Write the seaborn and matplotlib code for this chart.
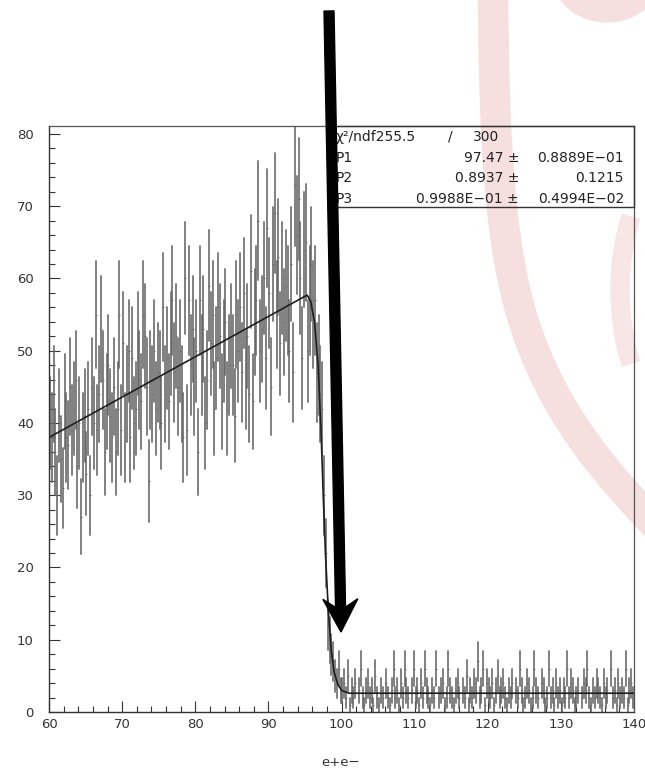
import numpy as np
import pandas as pd
import matplotlib
matplotlib.use("Agg")
import matplotlib.pyplot as plt
import seaborn as sns
from matplotlib import transforms
from matplotlib.patches import FancyArrow, Rectangle, Ellipse, Arc, PathPatch
from matplotlib.path import Path
from matplotlib.ticker import MultipleLocator

# ---- histogram: 0.25-wide bins from 60 to 140 ----
bin_start = 60.0
bin_width = 0.25

counts_60_65 = [40, 38, 44, 36, 30, 41, 35, 31, 43, 38, 37, 45, 39, 42, 46, 34, 40, 27, 38, 41]
counts_65_70 = [33, 42, 30, 45, 40, 55, 39, 44, 53, 46, 36, 43, 48, 41, 38, 45, 36, 42, 55, 39]
counts_70_75 = [51, 38, 44, 50, 38, 49, 40, 42, 51, 46, 43, 55, 52, 45, 32, 46, 44, 50, 42, 47]
counts_75_80 = [46, 40, 56, 44, 49, 43, 51, 57, 47, 52, 45, 50, 44, 38, 60, 39, 57, 48, 53, 45]
counts_80_85 = [50, 36, 57, 48, 53, 40, 46, 59, 51, 55, 42, 49, 56, 52, 43, 50, 54, 42, 48, 52]
counts_85_90 = [48, 41, 55, 50, 56, 47, 58, 46, 52, 44, 61, 43, 54, 57, 68, 50, 53, 60, 49, 67]
counts_90_95 = [58, 45, 62, 69, 55, 63, 51, 60, 54, 59, 57, 50, 62, 47, 73, 66, 71, 60, 49, 64]
counts_95_100 = [65, 50, 57, 62, 55, 57, 47, 48, 44, 42, 30, 22, 12, 10, 8, 7, 5, 4, 6, 3]
counts_100_105 = [3, 4, 2, 5, 1, 3, 2, 4, 0, 3, 6, 2, 1, 3, 4, 2, 3, 1, 5, 2]
counts_105_110 = [1, 3, 2, 0, 4, 2, 1, 3, 6, 2, 3, 1, 4, 2, 6, 3, 2, 0, 3, 6]
counts_110_115 = [2, 3, 1, 4, 2, 6, 3, 2, 1, 3, 2, 6, 0, 2, 3, 4, 1, 2, 6, 3]
counts_115_120 = [2, 1, 3, 4, 2, 0, 3, 2, 5, 1, 3, 2, 4, 3, 7, 2, 3, 6, 1, 4]
counts_120_125 = [3, 2, 4, 1, 3, 5, 2, 3, 4, 2, 1, 3, 2, 4, 0, 3, 2, 6, 3, 1]
counts_125_130 = [2, 4, 3, 1, 2, 6, 3, 2, 0, 4, 3, 1, 2, 6, 2, 3, 1, 4, 2, 3]
counts_130_135 = [1, 3, 2, 6, 2, 4, 3, 1, 2, 3, 0, 2, 4, 3, 6, 2, 1, 3, 2, 4]
counts_135_140 = [3, 2, 1, 4, 2, 3, 0, 6, 2, 3, 1, 4, 2, 3, 2, 6, 1, 3, 4, 2]

# ---- fitted curve ----
fit_x = [60.0, 95.3, 95.8, 96.3, 96.8, 97.2, 97.5, 97.8, 98.2, 98.6, 99.0, 99.5, 100.0, 101.0, 140.0]
fit_y = [38.0, 57.7, 56.8, 54.0, 48.0, 39.0, 30.0, 22.0, 14.0, 8.5, 5.5, 3.8, 3.0, 2.6, 2.6]

# ---- axes and statistics text ----
x_ticks = [60, 70, 80, 90, 100, 110, 120, 130, 140]
y_ticks = [0, 10, 20, 30, 40, 50, 60, 70, 80]
x_label = "e+e\u2212"
chi2_parts = ["\u03c7\u00b2/ndf255.5", "/", "300"]
par_names = ["P1", "P2", "P3"]
par_values = ["97.47 \u00b1", "0.8937 \u00b1", "0.9988E\u221201 \u00b1"]
par_errors = ["0.8889E\u221201", "0.1215", "0.4994E\u221202"]

sns.set_theme(style="white")
plt.rcParams["font.family"] = ["DejaVu Sans"]

W, H = 645, 768
fig = plt.figure(figsize=(W / 100, H / 100), dpi=100)
fig.patch.set_facecolor("white")
# pixel coordinates, origin at top-left
px = transforms.Affine2D().scale(1 / W, -1 / H).translate(0, 1) + fig.transFigure

# faint logo in the background
pink = "#f6dfdf"
band = Path([(493, -10), (494, 150), (500, 260), (530, 340),
             (560, 420), (605, 475), (680, 550)],
            [Path.MOVETO, Path.CURVE4, Path.CURVE4, Path.CURVE4,
             Path.CURVE4, Path.CURVE4, Path.CURVE4])
fig.add_artist(PathPatch(band, fill=False, ec=pink, lw=22, capstyle="butt",
                         transform=px, zorder=-5))
fig.add_artist(Ellipse((607, -25), 110, 95, fc=pink, ec="none", transform=px, zorder=-5))
fig.add_artist(Arc((705, 290), 170, 300, theta1=135, theta2=225, ec="#f8e6e6", lw=14,
                   transform=px, zorder=-5))

ax = fig.add_axes([49 / W, 1 - 712 / H, (634 - 49) / W, (712 - 126) / H])
ax.patch.set_alpha(0)

counts = np.array(counts_60_65 + counts_65_70 + counts_70_75 + counts_75_80 +
                  counts_80_85 + counts_85_90 + counts_90_95 + counts_95_100 +
                  counts_100_105 + counts_105_110 + counts_110_115 + counts_115_120 +
                  counts_120_125 + counts_125_130 + counts_130_135 + counts_135_140,
                  dtype=float)
n = len(counts)
centers = bin_start + bin_width * (np.arange(n) + 0.5)
err = np.sqrt(counts)

bars = pd.DataFrame({
    "x": np.repeat(centers, 2),
    "y": np.column_stack([counts - err, counts + err]).ravel(),
    "bin": np.repeat(np.arange(n), 2),
})
sns.lineplot(data=bars, x="x", y="y", units="bin", estimator=None, sort=False,
             color="#646464", linewidth=1.35, alpha=0.85, ax=ax, legend=False)

nz = counts > 0
sns.scatterplot(x=centers[nz], y=counts[nz], marker="_", s=3, linewidth=0.6,
                color="#666666", ax=ax, legend=False)

sns.lineplot(x=fit_x, y=fit_y, color="#1e1e1e", linewidth=1.2, ax=ax,
             estimator=None, sort=False)

ax.set_xlim(60, 140)
ax.set_ylim(0, 81.1)
ax.set_xticks(x_ticks)
ax.set_yticks(y_ticks)
ax.xaxis.set_minor_locator(MultipleLocator(2))
ax.yaxis.set_minor_locator(MultipleLocator(2))
ax.tick_params(which="both", direction="in", bottom=True, left=True, top=False,
               right=False, color="#333333", width=0.8)
ax.tick_params(which="major", length=7.9, labelsize=9.5, labelcolor="#333333")
ax.tick_params(which="minor", length=4.3)
ax.tick_params(axis="y", which="major", pad=11)
ax.tick_params(axis="x", which="major", pad=4)
ax.set_xlabel("")
ax.set_ylabel("")
for side in ("left", "bottom"):
    ax.spines[side].set_color("#333333")
    ax.spines[side].set_linewidth(1.0)
for side in ("top", "right"):
    ax.spines[side].set_color("#555555")
    ax.spines[side].set_linewidth(0.9)

fig.text(341, 762, x_label, transform=px, ha="center", va="center",
         fontsize=9.5, color="#333333")

# statistics box
fig.add_artist(Rectangle((333, 126), 301, 81, fill=False, ec="#333333", lw=1.0,
                         transform=px, zorder=4))
txt = dict(transform=px, va="center", fontsize=10, color="#222222", zorder=5)
fig.text(336, 137, chi2_parts[0], ha="left", **txt)
fig.text(448, 137, chi2_parts[1], ha="left", **txt)
fig.text(473, 137, chi2_parts[2], ha="left", **txt)
for i, (nm, val, er) in enumerate(zip(par_names, par_values, par_errors)):
    y = 157.5 + i * 20.7
    fig.text(336, y, nm, ha="left", **txt)
    fig.text(519, y, val, ha="right", **txt)
    fig.text(624, y, er, ha="right", **txt)

# pointer arrow
fig.add_artist(FancyArrow(329, 11, 12, 621, width=10, head_width=35, head_length=33,
                          overhang=0.25, length_includes_head=True, color="black",
                          transform=px, zorder=20))

fig.savefig("out.png", dpi=100)
